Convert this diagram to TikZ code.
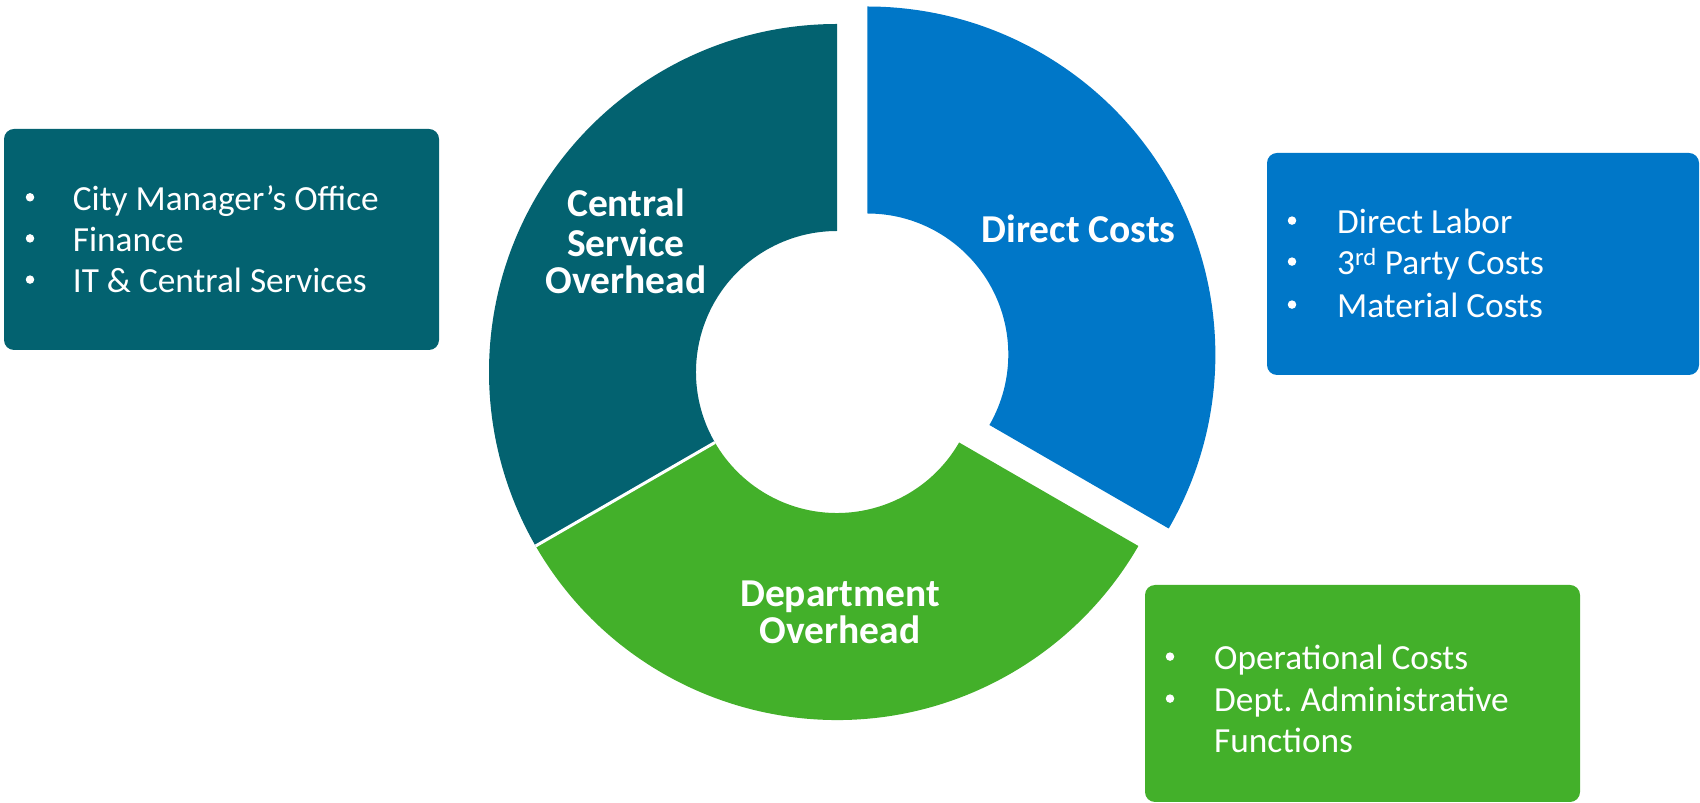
\documentclass[tikz,border=0pt]{standalone}
\usepackage{fontspec}
\setmainfont{Carlito}
\frenchspacing
\definecolor{cteal}{RGB}{3,98,112}
\definecolor{cblue}{RGB}{0,119,200}
\definecolor{cgreen}{RGB}{67,176,42}
\begin{document}
\begin{tikzpicture}[x=1pt,y=1pt,
  listbox/.style={rounded corners=10pt},
  bul/.style={circle,fill=white,minimum size=8.5pt,inner sep=0pt},
  itemtext/.style={anchor=base west,inner sep=0pt,text=white,font=\fontsize{35.3}{42}\selectfont},
  seglabel/.style={anchor=base,inner sep=0pt,text=white,font=\fontsize{39.5}{40}\selectfont\bfseries}]
\useasboundingbox (0,0) rectangle (1700,803);
% donut segments
\begin{scope}[shift={(837,431)}]
  \fill[cteal] (90:348pt) arc[start angle=90,end angle=210,radius=348pt]
     -- (210:141pt) arc[start angle=210,end angle=90,radius=141pt] -- cycle;
  \fill[cgreen] (210:348pt) arc[start angle=210,end angle=330,radius=348pt]
     -- (330:141pt) arc[start angle=330,end angle=210,radius=141pt] -- cycle;
  \draw[white,line width=3pt] (210:141pt) -- (210:348pt);
\end{scope}
\begin{scope}[shift={(867.3,448.5)}]
  \fill[cblue] (-30:348pt) arc[start angle=-30,end angle=90,radius=348pt]
     -- (90:141pt) arc[start angle=90,end angle=-30,radius=141pt] -- cycle;
\end{scope}
% segment labels
\node[seglabel] (cso1) at (626,586) {Central};
\node[seglabel] (cso2) at (626,546.5) {Service};
\node[seglabel] (cso3) at (626,509) {Overhead};
\node[seglabel] (dc) at (1078.5,560.3) {Direct Costs};
\node[seglabel] (do1) at (840,196.5) {Department};
\node[seglabel] (do2) at (840,159) {Overhead};
% list boxes
\fill[cteal,listbox] (4,453) rectangle (439,674);
\fill[cblue,listbox] (1267,428) rectangle (1699,650);
\fill[cgreen,listbox] (1145,1) rectangle (1580,218);
% teal list
\node[bul] (tb1) at (30,605.7) {};
\node[itemtext] (tt1) at (72.7,592.3) {City Manager’s Office};
\node[bul] (tb2) at (30,564.6) {};
\node[itemtext] (tt2) at (72.7,551.2) {Finance};
\node[bul] (tb3) at (30,523.4) {};
\node[itemtext] (tt3) at (72.7,510) {IT \& Central Services};
% blue list
\node[bul] (bb1) at (1292,582.4) {};
\node[itemtext] (bt1) at (1337,569) {Direct Labor};
\node[bul] (bb2) at (1292,541.4) {};
\node[itemtext] (bt2) at (1337,528) {3\textsuperscript{rd} Party Costs};
\node[bul] (bb3) at (1292,498.4) {};
\node[itemtext] (bt3) at (1337,485) {Material Costs};
% green list
\node[bul] (gb1) at (1170,146.4) {};
\node[itemtext] (gt1) at (1214,133) {Operational Costs};
\node[bul] (gb2) at (1170,104.4) {};
\node[itemtext] (gt2) at (1214,91) {Dept. Administrative};
\node[itemtext] (gt3) at (1214,50) {Functions};
\end{tikzpicture}
\end{document}
